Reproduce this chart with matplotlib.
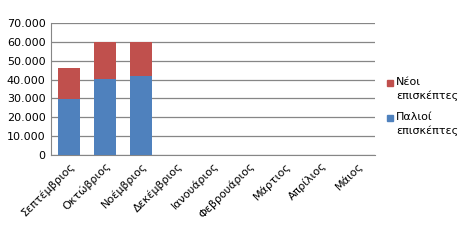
import numpy as np
import matplotlib
matplotlib.use('Agg')
from matplotlib import pyplot as plt
from matplotlib.ticker import FuncFormatter
from matplotlib.patches import Rectangle

months = ['Σεπτέμβριος', 'Οκτώβριος', 'Νοέμβριος', 'Δεκέμβριος', 'Ιανουάριος',
          'Φεβρουάριος', 'Μάρτιος', 'Απρίλιος', 'Μάιος']
old_visitors = [29500, 40100, 41900, 0, 0, 0, 0, 0, 0]
new_visitors = [16600, 19600, 18200, 0, 0, 0, 0, 0, 0]
series_names = ['Νέοι\nεπισκέπτες', 'Παλιοί\nεπισκέπτες']
colors = ['#c0504d', '#4f81bd']

plt.rcParams['font.family'] = ['DejaVu Sans']

fig = plt.figure(figsize=(4.6, 2.4), dpi=100)
ax = fig.add_axes([51/460, 1 - 155/240, 324/460, 132/240])

x = np.arange(len(months))
ax.bar(x, old_visitors, width=0.63, color=colors[1], zorder=3)
ax.bar(x, new_visitors, width=0.63, bottom=old_visitors, color=colors[0], zorder=3)

ax.set_xlim(-0.5, len(months) - 0.5)
ax.set_ylim(0, 70000)
ax.set_yticks(np.arange(0, 70001, 10000))
ax.yaxis.set_major_formatter(FuncFormatter(lambda v, p: f'{int(v):,}'.replace(',', '.')))
ax.grid(axis='y', color='#868686', linewidth=0.9, zorder=0)
ax.tick_params(length=0, labelsize=8, pad=4)
ax.set_xticks(x)
ax.set_xticklabels(months, rotation=45, ha='right', rotation_mode='anchor')

for s in ['top', 'right']:
    ax.spines[s].set_visible(False)
for s in ['left', 'bottom']:
    ax.spines[s].set_color('#868686')

# legend drawn by hand: square next to the first line of each label
for i, (name, c) in enumerate(zip(series_names, colors)):
    ytop = 79 + i * 35
    fig.patches.append(Rectangle((387/460, 1 - (ytop + 7)/240), 6.5/460, 6.5/240,
                                 transform=fig.transFigure, color=c))
    fig.text(396/460, 1 - (ytop - 2)/240, name, fontsize=8, va='top', ha='left',
             linespacing=1.45)

fig.savefig('out.png', dpi=100)
